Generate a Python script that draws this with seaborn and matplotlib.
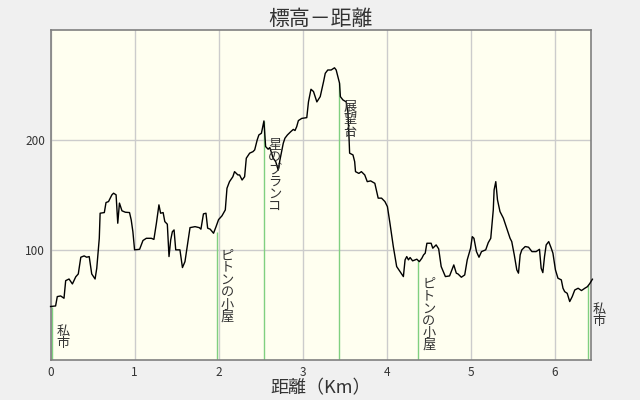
import numpy as np
import pandas as pd
import seaborn as sns
import matplotlib
matplotlib.use("Agg")
import matplotlib.pyplot as plt

# 距離 (km) と 標高 (m)
distancia = [0.00, 0.06, 0.08, 0.12, 0.16, 0.18, 0.22, 0.26, 0.30, 0.33, 0.36, 0.40, 0.43, 0.46,
             0.49, 0.53, 0.55, 0.58, 0.59, 0.64, 0.66, 0.69, 0.73, 0.75, 0.78, 0.80, 0.82, 0.85,
             0.89, 0.94, 0.96, 0.98, 1.00, 1.06, 1.10, 1.14, 1.20, 1.23, 1.26, 1.29, 1.31, 1.34,
             1.36, 1.39, 1.41, 1.43, 1.45, 1.47, 1.49, 1.54, 1.57, 1.60, 1.63, 1.66, 1.72, 1.77,
             1.79, 1.82, 1.85, 1.87, 1.90, 1.94, 1.97, 2.00, 2.04, 2.08, 2.10, 2.13, 2.17, 2.19,
             2.23, 2.25, 2.28, 2.31, 2.33, 2.37, 2.41, 2.43, 2.46, 2.48, 2.51, 2.54, 2.56, 2.59,
             2.61, 2.65, 2.68, 2.71, 2.73, 2.77, 2.79, 2.82, 2.86, 2.89, 2.91, 2.93, 2.95, 2.99,
             3.05, 3.07, 3.10, 3.13, 3.17, 3.21, 3.25, 3.27, 3.30, 3.34, 3.38, 3.40, 3.42, 3.44,
             3.45, 3.48, 3.52, 3.54, 3.55, 3.56, 3.60, 3.62, 3.63, 3.67, 3.70, 3.74, 3.77, 3.81,
             3.86, 3.90, 3.94, 3.98, 4.01, 4.04, 4.08, 4.12, 4.16, 4.20, 4.22, 4.24, 4.26, 4.28,
             4.31, 4.36, 4.39, 4.42, 4.44, 4.46, 4.48, 4.53, 4.55, 4.59, 4.62, 4.65, 4.70, 4.75,
             4.80, 4.83, 4.85, 4.89, 4.93, 4.96, 5.00, 5.02, 5.04, 5.07, 5.10, 5.13, 5.18, 5.21,
             5.24, 5.27, 5.28, 5.30, 5.32, 5.35, 5.39, 5.43, 5.47, 5.49, 5.52, 5.55, 5.57, 5.59,
             5.61, 5.65, 5.69, 5.73, 5.78, 5.82, 5.84, 5.86, 5.88, 5.90, 5.93, 5.96, 5.98, 6.01,
             6.04, 6.08, 6.10, 6.12, 6.15, 6.18, 6.21, 6.24, 6.28, 6.32, 6.36, 6.39, 6.42, 6.45]
altura = [49, 49.5, 58, 58.6, 56.5, 72.5, 74, 69.5, 76, 78.6, 93.8, 95, 93.8, 94.4,
          78.6, 74, 83.8, 111, 133.8, 134.4, 143.5, 144.4, 150.5, 152, 150.5, 124.7, 143, 136,
          134.7, 134.4, 127.7, 117, 100.5, 101, 109, 111, 111, 110, 124.7, 141.4, 133.8, 134.4,
          126.2, 123.8, 94.4, 109.5, 117, 118.6, 100.5, 100.5, 84.4, 89.8, 105, 120.7, 121.6, 120.7,
          119.3, 133.2, 133.8, 120.2, 119.3, 115.6, 121.6, 128, 131.4, 136.8, 156.5, 162.5, 167, 171.6,
          168.6, 168.6, 164, 167, 183.8, 188.4, 189.8, 191.4, 200.5, 205, 206.5, 217.7, 194.4, 192,
          193.5, 183.8, 180.7, 173, 182, 197.4, 202, 205, 208, 210, 209, 212.5, 218, 220,
          220.7, 235, 246.5, 244.4, 235, 239.8, 253.5, 261, 264, 264, 266, 264, 258, 252,
          239.8, 236.8, 235, 224.7, 208, 188.4, 186.8, 180.7, 171.6, 170, 171.6, 168.6, 162.5, 163.2,
          161, 147.5, 147.5, 144.4, 139.8, 124.7, 103.5, 85.3, 80.7, 76.2, 91.4, 94.4, 91.4, 93.5,
          90.5, 92, 89.8, 92.9, 95.9, 97.5, 106.5, 106.5, 102, 105, 101.4, 85.3, 76.2, 76.8,
          86.8, 79.3, 78.6, 75.6, 77.7, 91.4, 102, 112.5, 111, 98.9, 93.8, 98.9, 100.5, 107,
          111, 136.8, 155, 162.5, 146, 135.3, 129.3, 120.2, 111, 108, 95.9, 82.3, 79.3, 95.9,
          100.5, 103.5, 102.9, 98.9, 98.9, 101, 83.8, 79.8, 94.4, 105, 108, 102, 97.5, 82.3,
          74.7, 73.2, 65.6, 62.5, 61, 53.5, 58, 64, 65.6, 63.5, 65.6, 67, 70, 73.8]

# 地点
puntos = ["私市", "ピトンの小屋", "星のブランコ", "展望台", "ピトンの小屋", "私市"]
puntos_km = [0.02, 1.976, 2.54, 3.436, 4.376, 6.40]
puntos_alt = [49, 117, 217.7, 252, 91.4, 68.6]

df = pd.DataFrame({"距離": distancia, "標高": altura})

plt.rcParams["font.family"] = ["Noto Sans CJK JP", "DejaVu Sans"]

fig = plt.figure(figsize=(6.4, 4.0), dpi=100, facecolor="#f0f0f0")
ax = fig.add_axes([0.079, 0.099, 0.844, 0.825])
ax.set_facecolor("#fffff0")

# 地点の縦線
ax.vlines(puntos_km, 0, puntos_alt, color="#80d080", linewidth=1.0, zorder=2)

sns.lineplot(x="距離", y="標高", data=df, color="black", linewidth=1.0,
             estimator=None, sort=False, ax=ax, zorder=3, clip_on=False)

for nombre, xk, yk in zip(puntos, puntos_km, puntos_alt):
    ax.annotate("\n".join(nombre), xy=(xk, yk), xytext=(4, -18),
                textcoords="offset pixels", ha="left", va="top",
                fontsize=9.5, color="#333333", linespacing=0.92, zorder=4)

ax.set_xlim(0, 6.43)
ax.set_ylim(0, 300)
ax.set_xticks([0, 1, 2, 3, 4, 5, 6])
ax.set_yticks([100, 200])
ax.grid(True, color="#cccccc", linewidth=1.0)
ax.set_axisbelow(True)
ax.tick_params(length=0, labelsize=8.5, colors="#333333", pad=4)
for s in ax.spines.values():
    s.set_color("#808080")
    s.set_linewidth(1.2)

ax.set_xlabel("距離（Km）", fontsize=13, color="#333333", labelpad=0)
ax.set_ylabel("")
ax.set_title("標高－距離", fontsize=15, color="#333333", pad=2)

plt.savefig("out.png", dpi=100, facecolor=fig.get_facecolor())
